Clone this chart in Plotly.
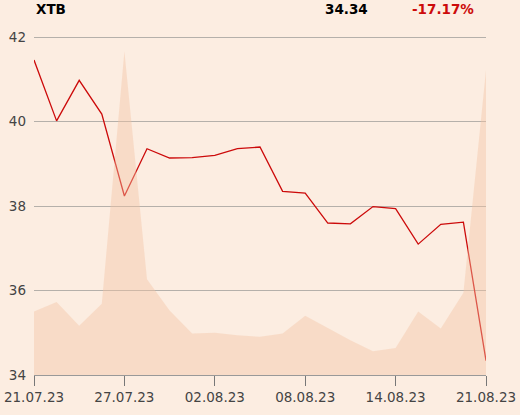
import plotly.graph_objects as go

dates = ["21.07.23", "24.07.23", "25.07.23", "26.07.23", "27.07.23", "28.07.23",
         "31.07.23", "01.08.23", "02.08.23", "03.08.23", "04.08.23", "07.08.23",
         "08.08.23", "09.08.23", "10.08.23", "11.08.23", "14.08.23", "16.08.23",
         "17.08.23", "18.08.23", "21.08.23"]
close = [41.46, 40.02, 40.98, 40.18, 38.24, 39.36, 39.14, 39.15, 39.20, 39.36,
         39.40, 38.35, 38.31, 37.60, 37.58, 37.99, 37.94, 37.10, 37.57, 37.62, 34.34]
volume = [75, 86, 58, 84, 382, 113, 76, 49, 50, 47, 45, 49, 70, 55, 41, 28, 32,
          75, 55, 97, 360]
tick_labels = ["21.07.23", "27.07.23", "02.08.23", "08.08.23", "14.08.23", "21.08.23"]
name = "XTB"

change = (close[-1] / close[0] - 1) * 100

BG = "#fcede1"
FONT = "DejaVu Sans"

fig = go.Figure()
fig.add_trace(go.Scatter(
    x=dates, y=volume, yaxis="y2", mode="lines", line=dict(width=0),
    fill="tozeroy", fillcolor="rgba(244,196,164,0.42)", hoverinfo="skip"))
fig.add_trace(go.Scatter(
    x=dates, y=close, mode="lines", line=dict(color="#cc0a0a", width=1.3)))

fig.update_layout(
    width=520, height=415,
    margin=dict(l=34, r=34, t=36.2, b=40, autoexpand=False),
    paper_bgcolor=BG, plot_bgcolor=BG,
    showlegend=False,
    font=dict(family=FONT, size=13.5, color="#444"),
    xaxis=dict(type="category", range=[0, len(dates) - 1],
               tickvals=tick_labels, ticktext=tick_labels,
               ticks="outside", ticklen=10, tickcolor="#777", tickwidth=1,
               showgrid=False, showline=True, linecolor="#999", linewidth=1,
               zeroline=False, automargin=False),
    yaxis=dict(range=[34, 42.03], tickvals=[34, 36, 38, 40, 42],
               showgrid=True, gridcolor="#b5b0aa", gridwidth=1,
               zeroline=False, ticks="", ticklabelstandoff=7, automargin=False),
    yaxis2=dict(overlaying="y", range=[0, 400], showgrid=False,
                showticklabels=False, zeroline=False, side="right",
                automargin=False),
    annotations=[
        dict(text="<b>%s</b>" % name, xref="paper", yref="paper", x=0, y=1.08,
             xanchor="left", yanchor="middle", showarrow=False,
             font=dict(family=FONT, size=13.5, color="#000")),
        dict(text="<b>%.2f</b>" % close[-1], xref="paper", yref="paper", x=0.743,
             y=1.08, xanchor="right", yanchor="middle", showarrow=False,
             font=dict(family=FONT, size=13.5, color="#000")),
        dict(text="<b>%.2f%%</b>" % change, xref="paper", yref="paper", x=0.832,
             y=1.08, xanchor="left", yanchor="middle", showarrow=False,
             font=dict(family=FONT, size=13.5, color="#cc0a0a")),
    ],
)

fig.write_html("out.html",
               config={"displayModeBar": False},
               post_script="document.body.style.margin='0';"
                           "document.body.style.background='%s';" % BG)
